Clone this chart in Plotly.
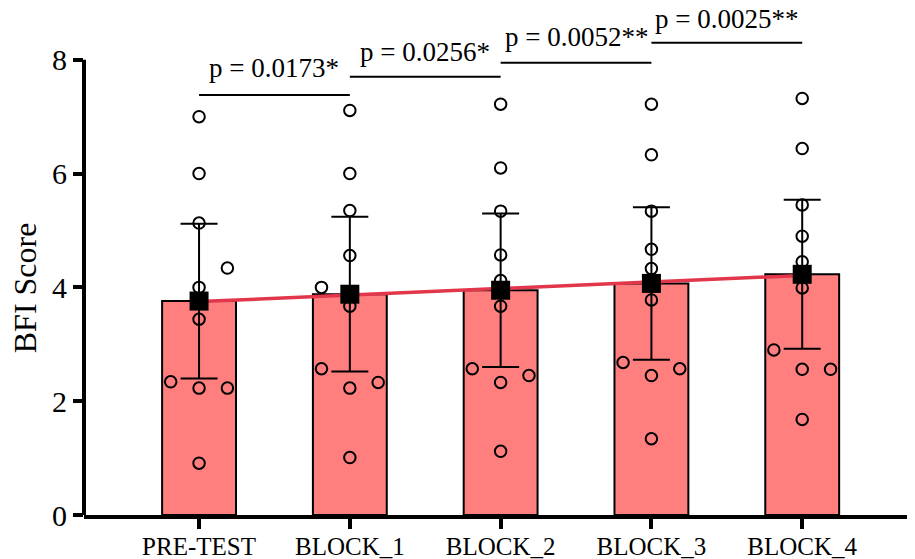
import plotly.graph_objects as go

categories = ["PRE-TEST", "BLOCK_1", "BLOCK_2", "BLOCK_3", "BLOCK_4"]

pre_test = [7.00, 6.00, 5.13, 4.34, 4.00, 3.44, 2.34, 2.23, 2.23, 0.91]
block_1 = [7.11, 6.00, 5.35, 4.56, 4.00, 3.67, 2.57, 2.33, 2.23, 1.01]
block_2 = [7.22, 6.10, 5.34, 4.57, 4.12, 3.67, 2.57, 2.45, 2.33, 1.12]
block_3 = [7.22, 6.33, 5.34, 4.67, 4.33, 3.78, 2.68, 2.57, 2.45, 1.34]
block_4 = [7.32, 6.44, 5.45, 4.90, 4.45, 3.99, 2.90, 2.56, 2.56, 1.68]

# side of the column each dot is drawn on (-1 left, 0 centre, 1 right)
sides_pre = [0, 0, 0, 1, 0, 0, -1, 0, 1, 0]
sides_b1 = [0, 0, 0, 0, -1, 0, -1, 1, 0, 0]
sides_b2 = [0, 0, 0, 0, 0, 0, -1, 1, 0, 0]
sides_b3 = [0, 0, 0, 0, 0, 0, -1, 1, 0, 0]
sides_b4 = [0, 0, 0, 0, 0, 0, -1, 0, 1, 0]

means = [3.76, 3.88, 3.95, 4.07, 4.23]
ci95 = [1.36, 1.36, 1.35, 1.34, 1.31]
trend = [3.75, 4.21]

p_labels = ["p = 0.0173*", "p = 0.0256*", "p = 0.0052**", "p = 0.0025**"]

groups = [pre_test, block_1, block_2, block_3, block_4]
sides = [sides_pre, sides_b1, sides_b2, sides_b3, sides_b4]

FONT = "Liberation Serif"
SPREAD = 0.188

fig = go.Figure()

fig.add_trace(go.Bar(
    x=list(range(len(categories))), y=means, width=0.49,
    marker=dict(color="#FF7F7F", line=dict(color="black", width=2)),
    showlegend=False, hoverinfo="skip"))

fig.add_trace(go.Scatter(
    x=[0, len(categories) - 1], y=trend, mode="lines",
    line=dict(color="#E2364B", width=3.5), showlegend=False))

dx, dy = [], []
for i, (vals, sd) in enumerate(zip(groups, sides)):
    for v, s in zip(vals, sd):
        dx.append(i + s * SPREAD)
        dy.append(v)
fig.add_trace(go.Scatter(
    x=dx, y=dy, mode="markers",
    marker=dict(symbol="circle-open", size=11.5, color="black",
                line=dict(width=2, color="black")),
    showlegend=False))

fig.add_trace(go.Scatter(
    x=list(range(len(categories))), y=means, mode="markers",
    marker=dict(symbol="square", size=19, color="black"),
    error_y=dict(type="data", array=ci95, visible=True, color="black",
                 thickness=2, width=18.5),
    showlegend=False))

bracket_y = [7.38, 7.70, 7.95, 8.30]
label_y = [7.56, 7.84, 8.10, 8.41]
shapes = []
annotations = []
for i, lab in enumerate(p_labels):
    shapes.append(dict(type="line", xref="x", yref="y", x0=i, x1=i + 1,
                       y0=bracket_y[i], y1=bracket_y[i],
                       line=dict(color="black", width=2)))
    annotations.append(dict(x=i + 0.5, y=label_y[i], xref="x", yref="y",
                            text=lab, showarrow=False, xanchor="center",
                            yanchor="bottom",
                            font=dict(family=FONT, size=27, color="black")))

# y axis line only from 0 to 8
shapes.append(dict(type="line", xref="paper", yref="y", x0=0, x1=0,
                   y0=0, y1=8, line=dict(color="black", width=4)))

annotations.append(dict(x=-0.07, y=4, xref="paper", yref="y", text="BFI Score",
                        textangle=-90, showarrow=False, xanchor="center",
                        yanchor="middle",
                        font=dict(family=FONT, size=32, color="black")))

fig.update_layout(
    template="none",
    width=907, height=551,
    margin=dict(l=76, r=0, t=0, b=44, autoexpand=False),
    plot_bgcolor="white", paper_bgcolor="white",
    shapes=shapes, annotations=annotations,
    xaxis=dict(range=[-0.763, 4.748], tickvals=list(range(len(categories))),
               ticktext=categories, showline=True, linecolor="black",
               linewidth=4, ticks="outside", ticklen=10, tickwidth=4,
               tickcolor="black", showgrid=False, zeroline=False,
               automargin=False, ticklabelstandoff=-4,
               tickfont=dict(family=FONT, size=25, color="black")),
    yaxis=dict(range=[0, 8.91], tickvals=[0, 2, 4, 6, 8], showline=False,
               ticks="outside", ticklen=10, tickwidth=4, tickcolor="black",
               showgrid=False, zeroline=False, automargin=False,
               tickfont=dict(family=FONT, size=30, color="black")),
)

fig.write_html("out.html")
